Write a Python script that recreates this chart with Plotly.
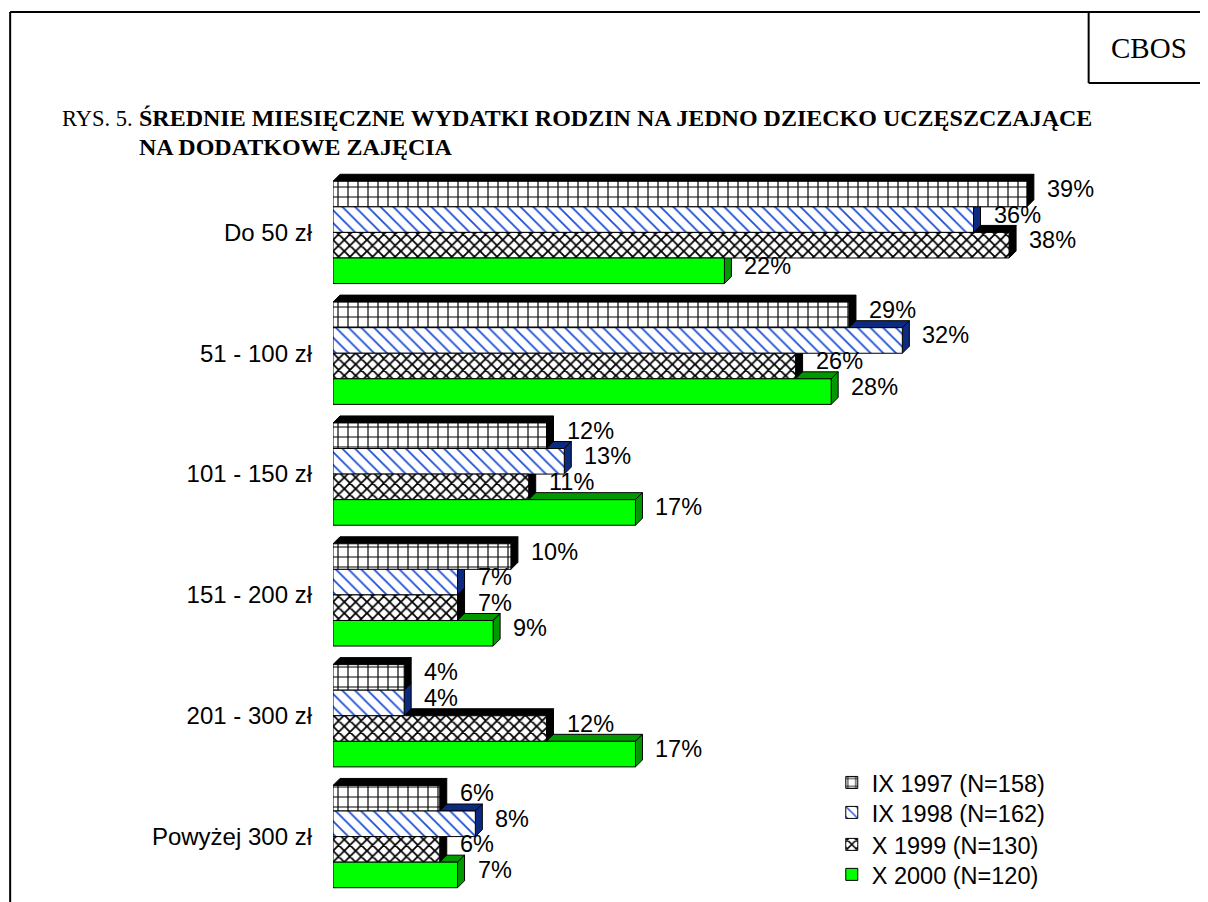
import plotly.graph_objects as go

# ---------------- data ----------------
categories = ["Do 50 zł", "51 - 100 zł", "101 - 150 zł", "151 - 200 zł",
              "201 - 300 zł", "Powyżej 300 zł"]
series_names = ["IX 1997 (N=158)", "IX 1998 (N=162)", "X 1999 (N=130)", "X 2000 (N=120)"]
v1997 = [39, 29, 12, 10, 4, 6]
v1998 = [36, 32, 13, 7, 4, 8]
v1999 = [38, 26, 11, 7, 12, 6]
v2000 = [22, 28, 17, 9, 17, 7]

# ---------------- layout / styles ----------------
OFF = 8                    # page body margin of the html page
W, H = 1208 - OFF, 902 - OFF
L, T = 333 - OFF, 172 - OFF
R, B = 20.6, 4.6
pw, ph = W - L - R, H - T - B
XMAX = 48.0
BAR_W = 0.2116            # bar thickness in category units
DX = 7 / (pw / XMAX)      # 3D depth in x units (~7px)
DY = 7 / (ph / 6)         # 3D depth in y units (~7px)

styles = [
    dict(bg="white", fg="black", shape="+", size=10, sol=0.22, face="#000000"),
    dict(bg="white", fg="#1f4fd6", shape="\\", size=9, sol=0.2, face="#0b2a80"),
    dict(bg="white", fg="black", shape="x", size=8, sol=0.4, face="#000000"),
    dict(bg="#00ff00", fg=None, shape="", size=8, sol=0.2, face="#009a00"),
]
legend_rows = [783, 813, 845, 875]   # legend row centres (page px)
SANS = "Liberation Sans, Arial, sans-serif"
SERIF = "Liberation Serif, Times New Roman, serif"


def px(x):
    return (x - OFF - L) / pw


def py(y):
    return 1 - (y - OFF - T) / ph


all_series = [v1997, v1998, v1999, v2000]
fig = go.Figure()
shapes = []
annotations = []

# 3D faces (drawn below bars), bottom series first so upper bars cover them
for j in reversed(range(4)):
    vals = all_series[j]
    st = styles[j]
    for i, v in enumerate(vals):
        yc = i + (j - 1.5) * BAR_W
        top, bot = yc - BAR_W / 2, yc + BAR_W / 2
        top_face = f"M 0,{top} L {v},{top} L {v + DX},{top - DY} L {DX},{top - DY} Z"
        side_face = f"M {v},{top} L {v + DX},{top - DY} L {v + DX},{bot - DY} L {v},{bot} Z"
        for p in (top_face, side_face):
            shapes.append(dict(type="path", path=p, xref="x", yref="y",
                               fillcolor=st["face"], line=dict(color="black", width=1),
                               layer="below"))

legend_names = ["legend", "legend2", "legend3", "legend4"]
for j in range(4):
    vals = all_series[j]
    st = styles[j]
    ys = [i + (j - 1.5) * BAR_W for i in range(len(vals))]
    marker = dict(color=st["bg"], line=dict(color="black", width=1))
    if st["shape"]:
        marker["pattern"] = dict(shape=st["shape"], fgcolor=st["fg"], bgcolor=st["bg"],
                                 size=st["size"], solidity=st["sol"], fillmode="replace")
    fig.add_trace(go.Bar(x=vals, y=ys, orientation="h", width=BAR_W,
                         name=series_names[j], marker=marker, legend=legend_names[j],
                         hoverinfo="skip"))
    for v, y in zip(vals, ys):
        annotations.append(dict(x=v + DX, y=y, xref="x", yref="y", text=f"{v}%",
                                showarrow=False, xanchor="left", yanchor="middle",
                                xshift=11, yshift=5,
                                font=dict(family=SANS, size=23.5, color="black")))

# page frame and CBOS box (page px)
frame = [(10, 12, 10, 910), (10, 12, 1215, 12), (1089, 12, 1089, 83), (1089, 83, 1215, 83)]
for x0, y0, x1, y1 in frame:
    shapes.append(dict(type="line", xref="paper", yref="paper",
                       x0=px(x0), y0=py(y0), x1=px(x1), y1=py(y1),
                       line=dict(color="black", width=2)))

annotations += [
    dict(xref="paper", yref="paper", x=px(1149), y=py(48), text="CBOS", showarrow=False,
         xanchor="center", yanchor="middle", font=dict(family=SERIF, size=29, color="black")),
    dict(xref="paper", yref="paper", x=px(60), y=py(118), text="RYS. 5.", showarrow=False,
         xanchor="left", yanchor="middle", font=dict(family=SERIF, size=22.5, color="black")),
    dict(xref="paper", yref="paper", x=px(137), y=py(118),
         text="<b>ŚREDNIE MIESIĘCZNE WYDATKI RODZIN NA JEDNO DZIECKO UCZĘSZCZAJĄCE</b>",
         showarrow=False, xanchor="left", yanchor="middle",
         font=dict(family=SERIF, size=24, color="black")),
    dict(xref="paper", yref="paper", x=px(137), y=py(147),
         text="<b>NA DODATKOWE ZAJĘCIA</b>",
         showarrow=False, xanchor="left", yanchor="middle",
         font=dict(family=SERIF, size=24, color="black")),
]

layout_legends = {}
for name, yrow in zip(legend_names, legend_rows):
    layout_legends[name] = dict(x=px(832), y=py(yrow), xanchor="left", yanchor="middle",
                                font=dict(family=SANS, size=23.5, color="black"),
                                bgcolor="rgba(0,0,0,0)", borderwidth=0)

fig.update_layout(
    width=W, height=H,
    margin=dict(l=L, r=R, t=T, b=B),
    paper_bgcolor="white", plot_bgcolor="white",
    barmode="overlay",
    showlegend=True,
    shapes=shapes,
    annotations=annotations,
    xaxis=dict(range=[0, XMAX], showgrid=False, zeroline=False, showline=False,
               showticklabels=False, ticks=""),
    yaxis=dict(range=[5.5, -0.5], tickmode="array", tickvals=list(range(len(categories))),
               ticktext=categories, showgrid=False, zeroline=False, showline=False,
               ticks="", ticklabelstandoff=20,
               tickfont=dict(family=SANS, size=24, color="black")),
    **layout_legends,
)

fig.write_html("out.html")
